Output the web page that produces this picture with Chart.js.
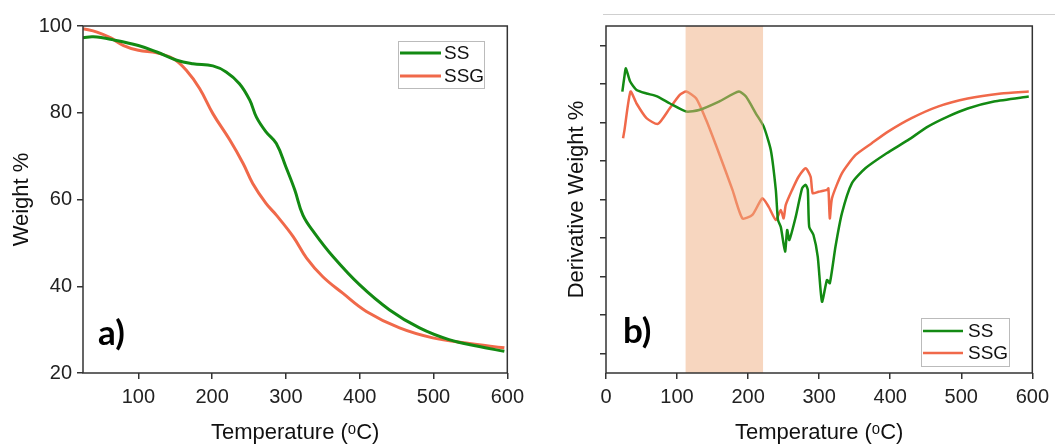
<!DOCTYPE html>
<html>
<head>
<meta charset="utf-8">
<script src="https://cdn.jsdelivr.net/npm/chart.js@4/dist/chart.umd.min.js"></script>
<style>
  body { margin: 0; background: #fff; }
  #wrap { position: relative; width: 1055px; height: 444px; }
  .panel { position: absolute; top: 0; }
  #panelA { left: 0; }
  #panelB { left: 530px; }
</style>
</head>
<body>
<div id="wrap">
  <div class="panel" id="panelA"><canvas id="chA" width="530" height="444"></canvas></div>
  <div class="panel" id="panelB"><canvas id="chB" width="525" height="444"></canvas></div>
</div>
<script>
var green = '#138A13', orange = '#F0694A';
var seriesNames = ['SS', 'SSG'];

// a) weight loss
var ssTempA = [25, 39, 66, 100, 125, 152, 174, 201, 219, 237, 251, 260, 273, 287, 300, 312, 323, 339, 364, 400, 440, 481, 521, 562, 596];
var ssWeightA = [97.3, 97.5, 96.8, 95.5, 94, 92.1, 91.3, 90.8, 89.4, 86.7, 82.9, 79, 75.6, 72.9, 67.5, 62.2, 56.4, 52.2, 46.8, 40.3, 34.6, 30.4, 27.7, 26.1, 25.0];
var ssgTempA = [25, 44, 62, 80, 100, 125, 147, 165, 183, 201, 224, 242, 255, 273, 287, 310, 328, 350, 377, 409, 454, 499, 544, 596];
var ssgWeightA = [99.4, 98.6, 97.3, 95.5, 94.4, 93.8, 92.5, 89.8, 85.6, 79.8, 73.7, 68.3, 63.7, 59.1, 56.4, 51.4, 46.5, 42.2, 38.4, 34.2, 30.4, 28.1, 26.9, 25.8];
var xTicksA = [100, 200, 300, 400, 500, 600];
var yTicksA = [20, 40, 60, 80, 100];

// b) derivative weight (arbitrary units)
var ssTempB = [23, 26, 28, 34, 43, 57, 71, 90, 113, 131, 159, 187, 197, 211, 222, 232, 239, 242, 246, 252, 255, 258, 267, 276, 281, 284, 286, 292, 298, 304, 311, 315, 323, 332, 346, 365, 395, 425, 453, 481, 509, 546, 595];
var ssDerivB = [7.30, 7.70, 7.90, 7.56, 7.34, 7.25, 7.18, 6.99, 6.78, 6.82, 7.04, 7.30, 7.17, 6.73, 6.39, 5.78, 4.75, 3.97, 3.79, 3.15, 3.71, 3.45, 4.05, 4.79, 4.88, 4.75, 3.79, 3.58, 3.02, 1.85, 2.41, 2.33, 3.28, 4.14, 4.92, 5.31, 5.70, 6.04, 6.39, 6.65, 6.86, 7.04, 7.17];
var ssgTempB = [24, 26, 34.5, 43, 57, 73, 89.5, 103.5, 113, 127, 141, 159, 178, 192, 206, 220, 229, 239, 246, 250, 253, 262, 271, 281, 288, 291, 299, 311, 313, 315, 318, 332, 351, 374, 397, 430, 467, 509, 556, 595];
var ssgDerivB = [6.09, 6.30, 7.30, 6.99, 6.61, 6.46, 6.86, 7.21, 7.30, 7.12, 6.56, 5.70, 4.75, 4.01, 4.10, 4.53, 4.31, 3.97, 4.23, 4.01, 4.36, 4.75, 5.09, 5.31, 5.09, 4.66, 4.70, 4.75, 4.79, 4.01, 4.53, 5.18, 5.65, 5.96, 6.26, 6.61, 6.91, 7.12, 7.25, 7.30];
var xTicksB = [0, 100, 200, 300, 400, 500, 600];
var yTicksB = [0.5, 1.5, 2.5, 3.5, 4.5, 5.5, 6.5, 7.5, 8.5];
var band = [112, 221];

function pts(xs, ys) {
  return xs.map(function (x, i) { return { x: x, y: ys[i] }; });
}

var font = "'Liberation Sans', Arial, sans-serif";
var axisColor = '#333';

// frame, band, legend, panel label
var decor = {
  id: 'decor',
  afterDatasetsDraw: function (chart, args, o) {
    var ctx = chart.ctx, a = chart.chartArea;
    ctx.save();
    if (o.band) {
      var xs = chart.scales.x;
      var x0 = xs.getPixelForValue(o.band[0]), x1 = xs.getPixelForValue(o.band[1]);
      ctx.fillStyle = 'rgba(239,173,127,0.5)';
      ctx.fillRect(x0, a.top, x1 - x0, a.bottom - a.top);
    }
    if (o.topLine) {
      ctx.strokeStyle = '#cfcfcf';
      ctx.lineWidth = 1;
      ctx.beginPath();
      ctx.moveTo(o.topLine[0], o.topLine[2]);
      ctx.lineTo(o.topLine[1], o.topLine[2]);
      ctx.stroke();
    }
    ctx.strokeStyle = axisColor;
    ctx.lineWidth = 1.5;
    ctx.strokeRect(a.left, a.top, a.right - a.left, a.bottom - a.top);

    // legend
    var L = o.legend;
    ctx.fillStyle = '#fff';
    ctx.fillRect(L.x, L.y, L.w, L.h);
    ctx.strokeStyle = '#bbb';
    ctx.lineWidth = 1;
    ctx.strokeRect(L.x + 0.5, L.y + 0.5, L.w, L.h);
    ctx.font = '19px ' + font;
    ctx.textBaseline = 'middle';
    chart.data.datasets.forEach(function (ds, i) {
      var y = L.rows[i];
      ctx.strokeStyle = ds.borderColor;
      ctx.lineWidth = ds.borderWidth;
      ctx.beginPath();
      ctx.moveTo(L.line[0], y);
      ctx.lineTo(L.line[1], y);
      ctx.stroke();
      ctx.fillStyle = '#111';
      ctx.fillText(ds.label, L.textX, y + 1);
    });

    ctx.font = "bold 35px Lato, 'Open Sans', sans-serif";
    ctx.textBaseline = 'alphabetic';
    ctx.fillStyle = '#000';
    ctx.fillText(o.tag[0], o.tag[1], o.tag[2]);
    ctx.restore();
  }
};

function axisX(ticks, min, max) {
  return {
    type: 'linear', min: min, max: max,
    afterBuildTicks: function (s) { s.ticks = ticks.map(function (v) { return { value: v }; }); },
    afterFit: function (s) { s.height = 71; },
    grid: { display: true, drawOnChartArea: false, drawTicks: true, tickLength: 6, color: axisColor, lineWidth: 1.5 },
    border: { display: false },
    ticks: { color: '#222', font: { size: 20, family: font }, padding: 6, maxRotation: 0 },
    title: { display: true, text: 'Temperature (ᵒC)', color: '#111', font: { size: 22, family: font }, padding: { top: 0, bottom: -2 } }
  };
}

function axisY(ticks, min, max, width, titleText, titlePad, showLabels) {
  return {
    type: 'linear', min: min, max: max,
    afterBuildTicks: function (s) { s.ticks = ticks.map(function (v) { return { value: v }; }); },
    afterFit: function (s) { s.width = width; },
    grid: { display: true, drawOnChartArea: false, drawTicks: true, tickLength: 6, color: axisColor, lineWidth: 1.5 },
    border: { display: false },
    ticks: {
      color: '#222', font: { size: 20, family: font }, padding: 5,
      callback: function (v) { return showLabels ? v : ''; }
    },
    title: { display: true, text: titleText, color: '#111', font: { size: 22, family: font }, padding: { top: titlePad, bottom: 0 } }
  };
}

function lineSet(label, xs, ys, color, width, tension) {
  return {
    label: label, data: pts(xs, ys),
    borderColor: color, backgroundColor: color, borderWidth: width,
    pointRadius: 0, tension: tension, fill: false
  };
}

new Chart(document.getElementById('chA'), {
  type: 'line',
  data: {
    datasets: [
      lineSet(seriesNames[0], ssTempA, ssWeightA, green, 3, 0.4),
      lineSet(seriesNames[1], ssgTempA, ssgWeightA, orange, 3, 0.4)
    ]
  },
  options: {
    responsive: false, animation: false,
    layout: { padding: { top: 26, right: 22, left: 0, bottom: 0 } },
    scales: {
      x: axisX(xTicksA, 25, 600),
      y: axisY(yTicksA, 20, 100, 83, 'Weight %', 9, true)
    },
    plugins: {
      legend: { display: false }, tooltip: { enabled: false },
      decor: {
        legend: { x: 398, y: 41, w: 86, h: 47, rows: [53, 76], line: [400, 441], textX: 444 },
        tag: ['a)', 98, 345]
      }
    }
  },
  plugins: [decor]
});

new Chart(document.getElementById('chB'), {
  type: 'line',
  data: {
    datasets: [
      lineSet(seriesNames[0], ssTempB, ssDerivB, green, 2.5, 0.2),
      lineSet(seriesNames[1], ssgTempB, ssgDerivB, orange, 2.5, 0.2)
    ]
  },
  options: {
    responsive: false, animation: false,
    layout: { padding: { top: 26, right: 20, left: 0, bottom: 0 } },
    scales: {
      x: axisX(xTicksB, 0, 600),
      y: axisY(yTicksB, 0, 9, 76, 'Derivative Weight %', 34, false)
    },
    plugins: {
      legend: { display: false }, tooltip: { enabled: false },
      decor: {
        band: band,
        topLine: [73, 525, 14.5],
        legend: { x: 391, y: 318, w: 88, h: 48, rows: [331, 353], line: [393, 433], textX: 438 },
        tag: ['b)', 93, 343]
      }
    }
  },
  plugins: [decor]
});
</script>
</body>
</html>
